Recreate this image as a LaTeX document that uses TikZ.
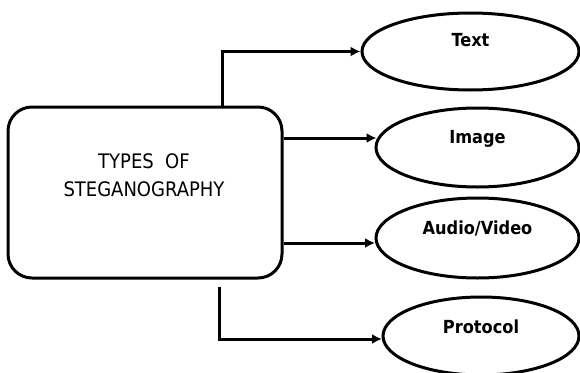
\documentclass[tikz,border=0pt]{standalone}
\usepackage{fontspec}
\newfontfamily\condfont{DejaVu Sans Condensed}
\usetikzlibrary{arrows.meta,shapes.geometric,calc}
\begin{document}
\begin{tikzpicture}[x=1pt,y=1pt,
  every path/.style={line width=3pt},
  bx/.style={draw,rounded corners=24pt,minimum width=274pt,minimum height=171pt,inner sep=0pt},
  ell/.style={draw,ellipse,inner sep=0pt},
  lbl/.style={font=\condfont\bfseries\fontsize{18}{20}\selectfont,anchor=base,inner sep=0pt},
  arr/.style={-{Latex[length=10pt,width=10pt]},line width=3pt},
]
\useasboundingbox (0,0) rectangle (580,-372);
\node[bx] (box) at (145,-192.5) {};
\node[font=\condfont\fontsize{20}{28.5}\selectfont,align=center,anchor=base,inner sep=0pt] (title) at (144,-196.5) {TYPES\ \ OF\\STEGANOGRAPHY};
\node[ell,minimum width=217pt,minimum height=77pt] (t) at (470.5,-51.5) {};
\node[ell,minimum width=203pt,minimum height=79pt] (i) at (477.5,-147.5) {};
\node[ell,minimum width=203pt,minimum height=80pt] (a) at (477.5,-238) {};
\node[ell,minimum width=196pt,minimum height=78pt] (p) at (481,-336) {};
\node[lbl] (tl) at ([yshift=5.5pt]t.center) {Text};
\node[lbl] (il) at ([yshift=4pt]i.center) {Image};
\node[lbl] (al) at ([yshift=3.5pt]a.center) {Audio/Video};
\node[lbl] (pl) at ([yshift=2.5pt]p.center) {Protocol};
\draw[arr] ([xshift=77pt]box.north) |- (t.west);
\draw[arr] ([yshift=9.5pt]box.east |- i.west) -- ([xshift=2pt,yshift=9.5pt]i.west);
\draw[arr] ([yshift=-5pt]box.east |- a.west) -- ([xshift=0.5pt,yshift=-5pt]a.west);
\draw[arr] ([xshift=74pt,yshift=-7pt]box.south) |- ([xshift=0.5pt,yshift=-3pt]p.west);
\end{tikzpicture}
\end{document}
